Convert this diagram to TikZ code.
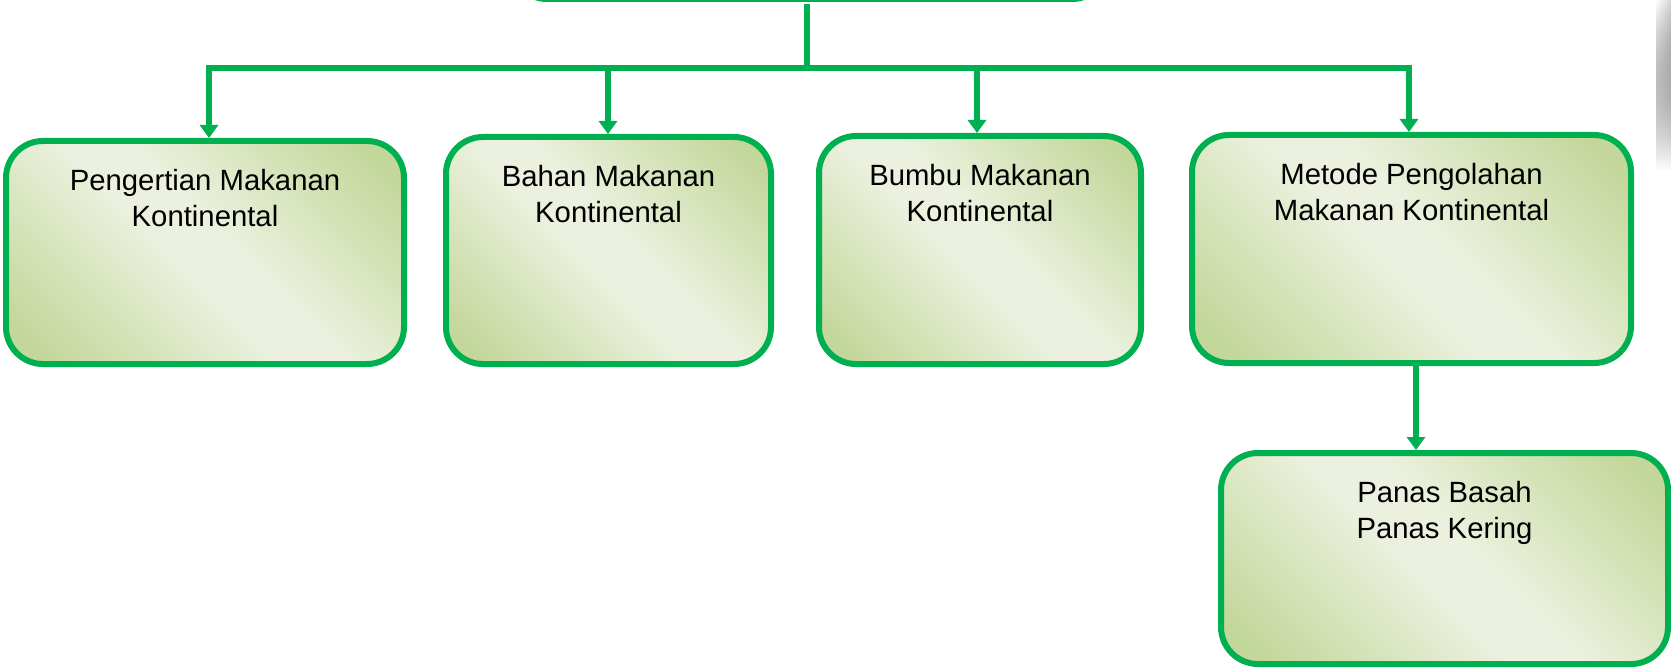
\documentclass[tikz,border=0pt]{standalone}
\usepackage{fontspec}
\setmainfont{Liberation Sans}
\usetikzlibrary{arrows.meta,fadings}
\definecolor{lineg}{HTML}{00B050}
\definecolor{darkg}{HTML}{C4D79B}
\definecolor{lightg}{HTML}{EBF1DE}
\pgfdeclareverticalshading{boxshade}{100bp}{color(0bp)=(darkg); color(20bp)=(darkg); color(46bp)=(lightg); color(54bp)=(lightg); color(80bp)=(darkg); color(100bp)=(darkg)}
\tikzset{
  box/.style={draw=lineg, line width=6pt, rounded corners=37pt, rectangle,
    shading=boxshade, shading angle=-45, inner sep=0pt},
  conn/.style={draw=lineg, line width=6pt, line cap=butt},
  arr/.style={conn, -{Triangle[width=18pt,length=13pt]}},
  lbl/.style={anchor=north, inner sep=0pt, align=center, text=black,
    font=\fontsize{29.3}{36.5}\selectfont}
}
\begin{document}
\begin{tikzpicture}[x=1pt,y=-1pt]
\useasboundingbox (0,0) rectangle (1671,668);
\clip (0,0) rectangle (1671,668);
\fill[white] (0,0) rectangle (1671,668);
% faint grey shadow at right edge
\fill[left color=white, right color=black!16, path fading=south] (1656,0) rectangle (1671,170);

% boxes
\node[box, minimum width=599pt, minimum height=199pt] (top) at (809.5,-100.5) {};
\node[box, minimum width=398pt, minimum height=223pt] (b1) at (205,252.5) {};
\node[box, minimum width=325pt, minimum height=227pt] (b2) at (608.5,250.5) {};
\node[box, minimum width=322pt, minimum height=228pt] (b3) at (980,250) {};
\node[box, minimum width=439pt, minimum height=228pt] (b4) at (1411.5,249) {};
\node[box, minimum width=447pt, minimum height=211pt] (b5) at (1444.5,558.5) {};

% labels
\node[lbl] (t1) at ([yshift=-31pt]b1.north) {Pengertian Makanan\\Kontinental};
\node[lbl] (t2) at ([yshift=-31pt]b2.north) {Bahan Makanan\\Kontinental};
\node[lbl] (t3) at ([yshift=-31pt]b3.north) {Bumbu Makanan\\Kontinental};
\node[lbl] (t4) at ([yshift=-31pt]b4.north) {Metode Pengolahan\\Makanan Kontinental};
\node[lbl] (t5) at ([yshift=-31pt]b5.north) {Panas Basah\\Panas Kering};

% connectors
\coordinate (hs) at (807,68);
\coordinate (h1) at (209,68);
\coordinate (h2) at (608,68);
\coordinate (h3) at (977,68);
\coordinate (h4) at (1409,68);
\draw[conn] ([yshift=-2pt]hs |- top.south) -- (hs);
\draw[conn] ([xshift=-3pt]h1) -- ([xshift=3pt]h4);
\draw[arr] (h1) -- (h1 |- b1.north);
\draw[arr] (h2) -- (h2 |- b2.north);
\draw[arr] (h3) -- (h3 |- b3.north);
\draw[arr] (h4) -- (h4 |- b4.north);
\draw[arr] ([xshift=4.5pt]b4.south) -- ([xshift=4.5pt]b4.south |- b5.north);
\end{tikzpicture}
\end{document}
